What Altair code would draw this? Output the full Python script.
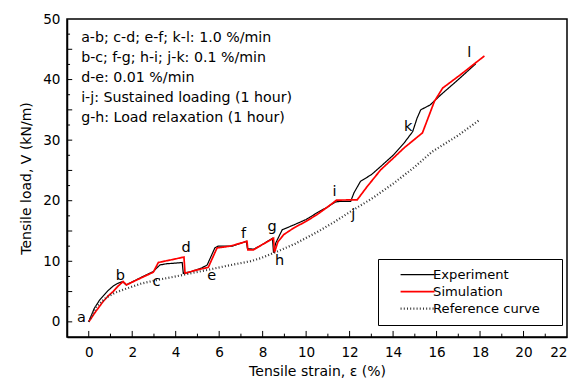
import altair as alt
import pandas as pd

# Measured tensile load-strain curves
exp_x = [0, 0.25, 0.5, 0.7, 0.9, 1.12, 1.3, 1.5, 1.6, 1.72, 2.0, 2.5, 2.97, 3.1, 3.28, 3.6, 4.0, 4.3,
         4.35, 4.8, 5.2, 5.45, 5.6, 5.8, 5.95, 6.3, 6.6, 7.0, 7.25, 7.3, 7.6, 8.0, 8.45, 8.5, 8.6,
         8.9, 9.43, 10.0, 10.5, 11.0, 11.35, 11.6, 12.05, 12.2, 12.5, 13.0, 13.43, 14.0, 14.5, 14.9,
         15.1, 15.27, 15.7, 16.2, 17.0, 17.8]
exp_y = [0, 2.2, 3.6, 4.4, 5.2, 5.9, 6.3, 6.6, 6.5, 6.1, 6.6, 7.5, 8.3, 8.8, 9.4, 9.6, 9.7, 9.8,
         8.0, 8.4, 8.9, 9.4, 10.6, 12.2, 12.5, 12.5, 12.5, 13.0, 13.3, 12.1, 12.0, 12.8, 13.8, 11.4, 13.0,
         15.2, 16.0, 16.9, 18.0, 19.0, 19.8, 19.9, 19.9, 21.3, 23.2, 24.3, 25.65, 27.5, 29.5, 31.4,
         33.6, 35.0, 35.8, 37.5, 40.0, 42.6]

# Model prediction
sim_x = [0, 0.3, 0.66, 0.9, 1.12, 1.35, 1.58, 1.74, 2.2, 2.97, 3.2, 3.6, 4.0, 4.38, 4.43, 4.9, 5.5,
         5.7, 5.9, 6.5, 7.0, 7.28, 7.32, 7.58, 8.0, 8.5, 8.54, 8.7, 8.97, 9.43, 10.0, 10.5, 11.0,
         11.4, 12.35, 12.8, 13.43, 14.0, 14.5, 15.35, 15.9, 16.28, 17.1, 18.2]
sim_y = [0, 1.6, 3.35, 4.3, 5.0, 5.9, 6.66, 6.1, 6.9, 8.2, 9.8, 10.1, 10.4, 10.7, 8.0, 8.5, 9.0,
         10.6, 12.2, 12.5, 13.0, 13.3, 11.9, 11.9, 12.8, 13.8, 11.4, 13.2, 14.4, 15.5, 16.6, 17.7, 19.0,
         20.1, 20.15, 22.3, 25.1, 27.0, 28.7, 31.2, 36.4, 38.6, 40.8, 43.9]

# Reference (constant-rate) curve
ref_x = [0, 0.35, 0.8, 1.2, 1.74, 2.4, 3.12, 4.0, 4.8, 5.5, 6.35, 7.43, 7.9, 8.66, 9.5, 10.5, 11.3,
         12.04, 13.0, 14.0, 15.0, 15.8, 17.0, 18.0]
ref_y = [0, 2.5, 4.0, 4.8, 5.5, 6.3, 6.9, 7.5, 8.1, 8.6, 9.25, 10.0, 10.5, 11.6, 12.9, 14.8, 16.5,
         18.2, 20.3, 22.8, 25.6, 28.1, 30.8, 33.4]

series_names = ["Experiment", "Simulation", "Reference curve"]

# Stage letters along the loading path
letters = ["a", "b", "c", "d", "e", "f", "g", "h", "i", "j", "k", "l"]
letter_x = [-0.34, 1.46, 3.12, 4.48, 5.66, 7.12, 8.43, 8.78, 11.3, 12.17, 14.69, 17.5]
letter_y = [0.6, 7.6, 6.66, 12.2, 7.6, 14.5, 15.6, 10.0, 21.4, 17.7, 32.2, 44.4]

notes = [
    "a-b; c-d; e-f; k-l: 1.0 %/min",
    "b-c; f-g; h-i; j-k: 0.1 %/min",
    "d-e: 0.01 %/min",
    "i-j: Sustained loading (1 hour)",
    "g-h: Load relaxation (1 hour)",
]

x_major = list(range(0, 23, 2))
x_minor = list(range(1, 22, 2))
y_major = [0, 5, 10, 15, 20, 25, 30, 35, 40, 45, 50]
y_minor = [2.5, 7.5, 12.5, 17.5, 22.5, 27.5, 32.5, 37.5, 42.5, 47.5]

X_MIN, X_MAX = -1, 22
Y_MIN, Y_MAX = -2.5, 50
FONT = "DejaVu Sans"

frames = []
for name, xs_, ys_ in zip(series_names, [exp_x, sim_x, ref_x], [exp_y, sim_y, ref_y]):
    frames.append(pd.DataFrame({"strain": xs_, "load": ys_, "series": name, "i": range(len(xs_))}))
curves = pd.concat(frames, ignore_index=True)

xs = alt.Scale(domain=[X_MIN, X_MAX], nice=False, zero=False)
ys = alt.Scale(domain=[Y_MIN, Y_MAX], nice=False, zero=False)

# non-breaking blanks (closed by a zero-width space so they survive trimming)
# leave some room on the right inside the legend frame
legend = alt.Legend(
    title=None, orient="none", legendX=311, legendY=240,
    symbolType="M-4,0L4,0", symbolSize=72, symbolOffset=24,
    labelOffset=9, rowPadding=3, padding=9,
    labelExpr="datum.label + '\u00a0\u00a0\u00a0\u200b'",
    labelFont=FONT, labelFontSize=13.1, labelColor="black",
    strokeColor="black", fillColor="white",
)

lines = alt.Chart(curves).mark_line().encode(
    x=alt.X("strain:Q", scale=xs, axis=alt.Axis(values=x_major, title="Tensile strain, ε (%)")),
    y=alt.Y("load:Q", scale=ys, axis=alt.Axis(values=y_major, title="Tensile load, V (kN/m)")),
    color=alt.Color("series:N", scale=alt.Scale(domain=series_names, range=["#000000", "#ff0000", "#333333"]), legend=legend),
    strokeDash=alt.StrokeDash("series:N", scale=alt.Scale(domain=series_names, range=[[1, 0], [1, 0], [1, 2.2]]), legend=legend),
    strokeWidth=alt.StrokeWidth("series:N", scale=alt.Scale(domain=series_names, range=[1.2, 2.2, 0.9]), legend=legend),
    order="i:Q",
)

# Inward ticks on the bottom and left axes
def tick_frame(vals, length):
    return pd.DataFrame({"v": vals, "len": length})

x_ticks = pd.concat([tick_frame(x_major[:-1], 1.0), tick_frame(x_minor, 0.55)])
x_ticks["lo"] = Y_MIN
x_ticks["hi"] = Y_MIN + x_ticks["len"]
y_ticks = pd.concat([tick_frame(y_major[:-1], 0.24), tick_frame(y_minor, 0.14)])
y_ticks["lo"] = X_MIN
y_ticks["hi"] = X_MIN + y_ticks["len"]

xt = alt.Chart(x_ticks).mark_rule(color="black", strokeWidth=1).encode(
    x=alt.X("v:Q", scale=xs), y=alt.Y("lo:Q", scale=ys), y2="hi:Q")
yt = alt.Chart(y_ticks).mark_rule(color="black", strokeWidth=1).encode(
    y=alt.Y("v:Q", scale=ys), x=alt.X("lo:Q", scale=xs), x2="hi:Q")

stage_df = pd.DataFrame({"t": letters, "x": letter_x, "y": letter_y})
stages = alt.Chart(stage_df).mark_text(font=FONT, fontSize=14.5, color="black").encode(
    x=alt.X("x:Q", scale=xs), y=alt.Y("y:Q", scale=ys), text="t:N")

note_df = pd.DataFrame({"t": notes, "x": -0.35, "y": [46.86 - 3.3 * k for k in range(len(notes))]})
note_marks = alt.Chart(note_df).mark_text(font=FONT, fontSize=14.2, color="black", align="left", baseline="middle").encode(
    x=alt.X("x:Q", scale=xs), y=alt.Y("y:Q", scale=ys), text="t:N")

chart = alt.layer(lines, xt, yt, stages, note_marks).properties(
    width=500, height=318,
    autosize=alt.AutoSizeParams(type="none"),
    padding={"left": 67, "top": 19, "right": 13, "bottom": 41},
).configure_view(
    stroke="black", strokeWidth=1.5,
).configure_axis(
    grid=False, ticks=False, domainColor="black", domainWidth=1.5,
    labelFont=FONT, labelFontSize=13.6, labelColor="black",
    titleFont=FONT, titleFontSize=14, titleFontWeight="normal", titleColor="black",
).configure_axisX(
    labelPadding=8, titlePadding=6,
).configure_axisY(
    labelPadding=7, titlePadding=9,
)

chart.save("out.html", embed_options={"renderer": "svg", "actions": False})
